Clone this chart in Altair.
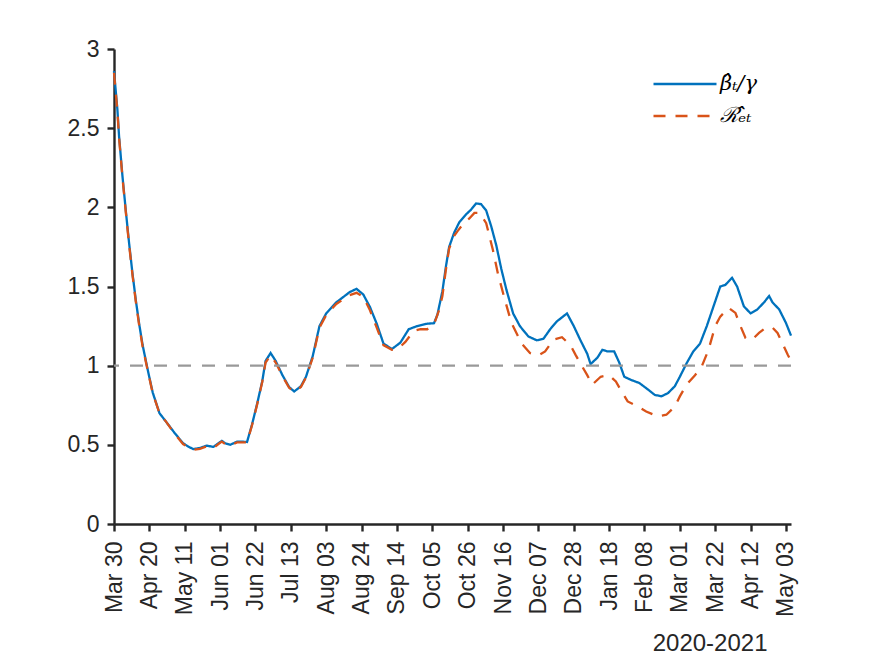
import altair as alt
import pandas as pd

# ---- data ----
beta_days = [0, 2, 3, 5, 7, 9, 11, 13, 15, 17, 20, 23, 27, 31, 36, 41, 44, 47, 51, 55,
             59, 62, 64, 66, 69, 73, 76, 79, 82, 85, 88, 90, 93, 96, 100, 104, 107, 111, 114, 118,
             122, 126, 132, 140, 144, 148, 152, 156, 160, 165, 170, 175, 180, 186, 190, 192, 195, 197, 199, 202,
             205, 209, 212, 215, 218, 221, 224, 227, 230, 233, 237, 241, 246, 251, 255, 259, 263, 269, 273, 277,
             281, 283, 287, 290, 293, 297, 300, 303, 307, 312, 317, 321, 325, 329, 333, 336, 340, 344, 348, 352,
             356, 360, 363, 367, 370, 374, 378, 382, 386, 389, 391, 395, 399, 402]
beta_vals = [2.86, 2.62, 2.45, 2.20, 1.98, 1.77, 1.58, 1.41, 1.26, 1.13, 0.975, 0.83, 0.70, 0.645, 0.575, 0.51, 0.49, 0.473, 0.48, 0.495,
             0.487, 0.51, 0.525, 0.51, 0.50, 0.52, 0.52, 0.518, 0.63, 0.76, 0.90, 1.03, 1.08, 1.03, 0.94, 0.865, 0.837, 0.87, 0.93, 1.06,
             1.25, 1.33, 1.40, 1.465, 1.485, 1.45, 1.37, 1.265, 1.14, 1.105, 1.145, 1.23, 1.25, 1.265, 1.268, 1.32, 1.47, 1.62, 1.75, 1.84,
             1.905, 1.955, 1.985, 2.025, 2.02, 1.98, 1.88, 1.76, 1.61, 1.48, 1.33, 1.25, 1.185, 1.16, 1.17, 1.23, 1.28, 1.33, 1.25, 1.16,
             1.075, 1.01, 1.05, 1.10, 1.09, 1.09, 1.02, 0.93, 0.91, 0.89, 0.85, 0.816, 0.806, 0.827, 0.87, 0.93, 1.015, 1.09, 1.14, 1.25,
             1.375, 1.50, 1.51, 1.555, 1.50, 1.375, 1.33, 1.355, 1.40, 1.44, 1.40, 1.355, 1.27, 1.19]

r_days = [0, 2, 3, 5, 7, 9, 11, 13, 15, 17, 20, 23, 27, 31, 36, 41, 44, 47, 51, 55,
          59, 62, 64, 66, 69, 73, 76, 79, 82, 85, 88, 90, 93, 96, 100, 104, 107, 111, 114, 118,
          122, 126, 132, 140, 144, 148, 152, 156, 160, 165, 169, 173, 178, 182, 186, 190, 193, 195, 197, 199,
          202, 204, 207, 211, 214, 217, 221, 225, 228, 232, 236, 242, 247, 252, 256, 261, 266, 271, 274, 278,
          281, 284, 289, 294, 298, 302, 305, 311, 316, 323, 328, 333, 336, 340, 345, 349, 353, 357, 360, 365,
          369, 372, 375, 379, 383, 387, 391, 394, 397, 400, 402]
r_vals = [2.85, 2.61, 2.44, 2.19, 1.97, 1.76, 1.57, 1.40, 1.25, 1.12, 0.97, 0.825, 0.70, 0.645, 0.57, 0.505, 0.485, 0.468, 0.475, 0.49,
          0.48, 0.505, 0.52, 0.505, 0.495, 0.515, 0.515, 0.515, 0.625, 0.755, 0.895, 1.02, 1.065, 1.02, 0.935, 0.86, 0.835, 0.865, 0.925, 1.05,
          1.24, 1.32, 1.39, 1.445, 1.46, 1.435, 1.35, 1.24, 1.13, 1.10, 1.11, 1.15, 1.22, 1.23, 1.23, 1.26, 1.35, 1.44, 1.60, 1.74,
          1.82, 1.85, 1.89, 1.93, 1.965, 1.965, 1.90, 1.73, 1.58, 1.42, 1.27, 1.14, 1.08, 1.065, 1.09, 1.165, 1.18, 1.13, 1.07, 0.995,
          0.94, 0.88, 0.93, 0.94, 0.90, 0.827, 0.774, 0.742, 0.71, 0.68, 0.69, 0.742, 0.806, 0.88, 0.94, 0.995, 1.10, 1.25, 1.31, 1.365,
          1.333, 1.25, 1.175, 1.165, 1.207, 1.24, 1.24, 1.207, 1.14, 1.07, 1.03]

series_names = ["\u03b2\u0302\u209c/\u03b3", "\u211b\u0302\u2091\u209c"]
series_colors = ["#0072BD", "#D95319"]
series_dashes = [[1, 0], [12, 10]]

x_tick_days = [0, 21, 42, 63, 84, 105, 126, 147, 168, 189, 210, 231, 252, 273, 294, 315, 336, 357, 378, 399]
x_tick_labels = ["Mar 30", "Apr 20", "May 11", "Jun 01", "Jun 22", "Jul 13", "Aug 03", "Aug 24", "Sep 14", "Oct 05",
                 "Oct 26", "Nov 16", "Dec 07", "Dec 28", "Jan 18", "Feb 08", "Mar 01", "Mar 22", "Apr 12", "May 03"]
y_ticks = [0, 0.5, 1, 1.5, 2, 2.5, 3]
x_title = "2020-2021"
ref_level = [1]

beta_df = pd.DataFrame({"day": beta_days, "value": beta_vals, "series": series_names[0]})
r_df = pd.DataFrame({"day": r_days, "value": r_vals, "series": series_names[1]})
ref_df = pd.DataFrame({"y": ref_level})

AX = "#262626"
FONT = "Liberation Sans"
label_expr = "[" + ",".join("'%s'" % s for s in x_tick_labels) + "][round(datum.value/21)]"

x_enc = alt.X("day:Q",
              scale=alt.Scale(domain=[0, 402], nice=False, zero=False),
              axis=alt.Axis(values=x_tick_days, labelExpr=label_expr, labelAngle=270,
                            labelFont=FONT, labelFontSize=23, labelColor=AX, labelPadding=10,
                            title=x_title, titleX=653, titleY=126, titleAlign="right",
                            titleBaseline="alphabetic", titleFontSize=24, titleFont=FONT,
                            titleFontWeight="normal", titleColor=AX))
y_enc = alt.Y("value:Q",
              scale=alt.Scale(domain=[0, 3], nice=False),
              axis=alt.Axis(values=y_ticks, format="~g", title=None, labelPadding=8,
                            labelFont=FONT, labelFontSize=23, labelColor=AX))
color_enc = alt.Color("series:N", scale=alt.Scale(domain=series_names, range=series_colors), title=None)
dash_enc = alt.StrokeDash("series:N", scale=alt.Scale(domain=series_names, range=series_dashes), title=None)

beta_line = alt.Chart(beta_df).mark_line(strokeWidth=2.3).encode(
    x=x_enc, y=y_enc, color=color_enc, strokeDash=dash_enc)
r_line = alt.Chart(r_df).mark_line(strokeWidth=2.3).encode(
    x=x_enc, y=y_enc, color=color_enc, strokeDash=dash_enc)
ref_rule = alt.Chart(ref_df).mark_rule(color="#999999", strokeWidth=2.2, strokeDash=[13, 11]).encode(
    y=alt.Y("y:Q"))

chart = alt.layer(beta_line, r_line, ref_rule).properties(
    width=677, height=475,
    autosize=alt.AutoSizeParams(type="none"),
    padding={"left": 106, "top": 41, "right": 70, "bottom": 130},
).configure_view(stroke="transparent").configure_axis(
    grid=False, domainColor=AX, domainWidth=2.4, tickColor=AX, tickWidth=2.4, tickSize=7,
).configure_legend(
    orient="none", legendX=559, legendY=23, padding=0,
    symbolType="M-3,0H3", symbolSize=441, symbolStrokeWidth=2.3,
    labelFont="DejaVu Serif", labelFontSize=21, labelFontStyle="italic", labelColor="#000000",
    labelOffset=23, rowPadding=10,
)

chart.save("out.html", embed_options={"renderer": "svg", "actions": False})
